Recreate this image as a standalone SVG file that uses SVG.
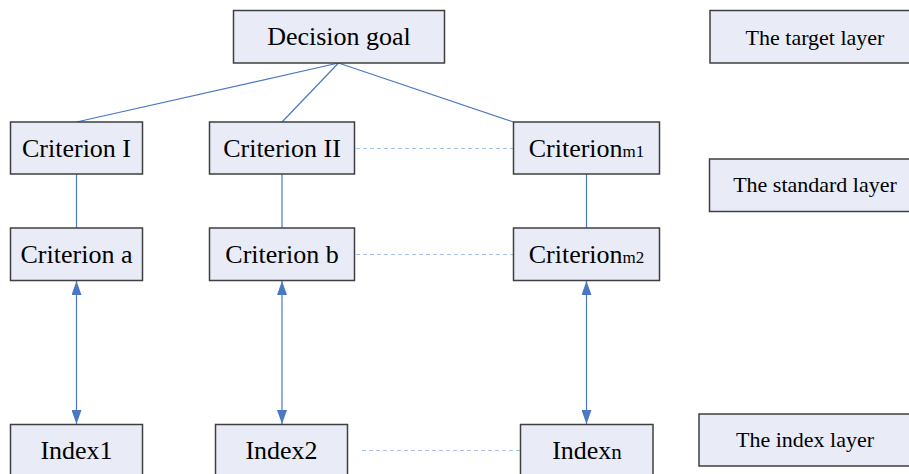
<svg xmlns="http://www.w3.org/2000/svg" width="909" height="474" viewBox="0 0 909 474">
<style>
.box{fill:#E9ECF7;stroke:#3F3F3F;stroke-width:1.5}
.t{font-family:"Liberation Serif","Times New Roman",serif;font-size:26px;fill:#000;text-anchor:middle}
.l{font-family:"Liberation Serif","Times New Roman",serif;font-size:22px;fill:#000;text-anchor:middle}
.sub{font-size:17px}
.ln{stroke:#4A78C4;stroke-width:1.2;fill:none}
.ar{stroke:#4A78C4;stroke-width:1.2;fill:none;marker-start:url(#ah);marker-end:url(#ah)}
.ds{stroke:#A8C2E6;stroke-width:1;stroke-dasharray:4 3;fill:none}
</style>
<defs>
<marker id="ah" viewBox="0 0 14 10" refX="14" refY="5" markerWidth="14" markerHeight="10" markerUnits="userSpaceOnUse" orient="auto-start-reverse">
<path d="M0,0 L14,5 L0,10 Z" fill="#4A78C4"/>
</marker>
</defs>
<rect width="909" height="474" fill="#fff"/>
<g id="connectors">
<line class="ln" x1="338.5" y1="63" x2="76.5" y2="122"/>
<line class="ln" x1="338.5" y1="63" x2="282" y2="122"/>
<line class="ln" x1="338.5" y1="63" x2="513.5" y2="122"/>
<line class="ln" x1="76.5" y1="174" x2="76.5" y2="228"/>
<line class="ln" x1="282" y1="174" x2="282" y2="228"/>
<line class="ln" x1="586.5" y1="174" x2="586.5" y2="228"/>
<line class="ar" x1="76.5" y1="281" x2="76.5" y2="424"/>
<line class="ar" x1="282" y1="281" x2="282" y2="424"/>
<line class="ar" x1="586.5" y1="281" x2="586.5" y2="424"/>
<line class="ds" x1="356" y1="148.5" x2="513" y2="148.5"/>
<line class="ds" x1="356" y1="254.5" x2="513" y2="254.5"/>
<line class="ds" x1="362" y1="450.5" x2="520" y2="450.5"/>
</g>
<g id="decision-goal"><rect class="box" x="233.5" y="10.5" width="211" height="52.5"/><text class="t" x="339" y="45">Decision goal</text></g>
<g id="target-layer"><rect class="box" x="710" y="10.5" width="212" height="52.5"/><text class="l" x="815" y="45">The target layer</text></g>
<g id="criterion-I"><rect class="box" x="10.5" y="122" width="132" height="52"/><text class="t" x="76.5" y="157">Criterion I</text></g>
<g id="criterion-II"><rect class="box" x="209.5" y="122" width="145" height="52"/><text class="t" x="282" y="157">Criterion II</text></g>
<g id="criterion-m1"><rect class="box" x="513.5" y="122" width="146" height="52"/><text class="t" x="586.5" y="157">Criterion<tspan class="sub">m1</tspan></text></g>
<g id="standard-layer"><rect class="box" x="709.5" y="159" width="212" height="52.5"/><text class="l" x="815" y="192">The standard layer</text></g>
<g id="criterion-a"><rect class="box" x="10.5" y="228" width="132" height="52.5"/><text class="t" x="76.5" y="263">Criterion a</text></g>
<g id="criterion-b"><rect class="box" x="209.5" y="228" width="145" height="52.5"/><text class="t" x="282" y="263">Criterion b</text></g>
<g id="criterion-m2"><rect class="box" x="513.5" y="228" width="146" height="52.5"/><text class="t" x="586.5" y="263">Criterion<tspan class="sub">m2</tspan></text></g>
<g id="index1"><rect class="box" x="10.5" y="424.5" width="132" height="60"/><text class="t" x="76.5" y="458.5">Index1</text></g>
<g id="index2"><rect class="box" x="215.5" y="424.5" width="132" height="60"/><text class="t" x="281.5" y="458.5">Index2</text></g>
<g id="indexn"><rect class="box" x="520.5" y="424.5" width="132.5" height="60"/><text class="t" x="587" y="458.5">Index<tspan style="font-size:21px">n</tspan></text></g>
<g id="index-layer"><rect class="box" x="699" y="414" width="213" height="52"/><text class="l" x="805" y="447">The index layer</text></g>
</svg>
